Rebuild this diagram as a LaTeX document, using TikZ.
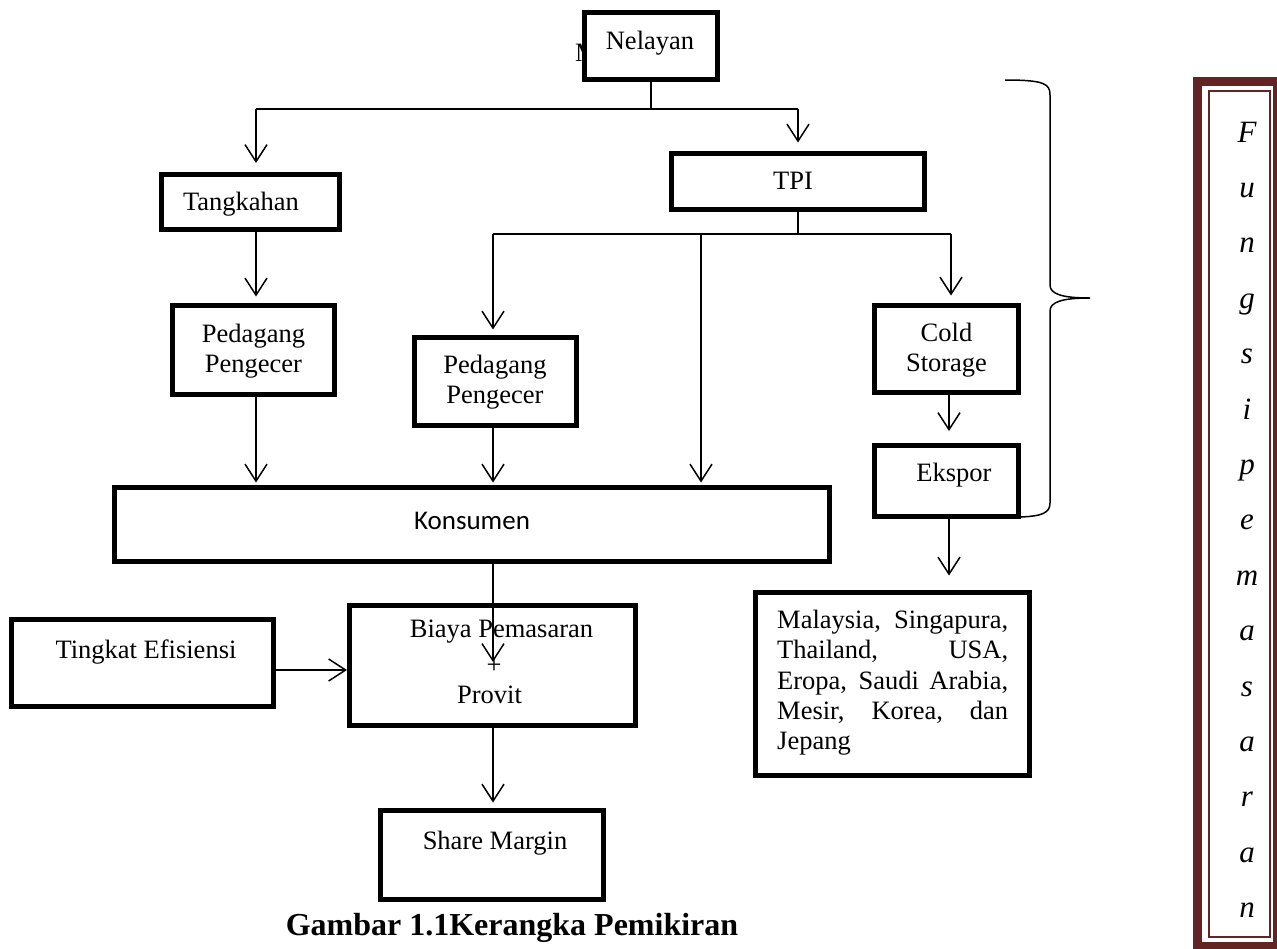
\documentclass[tikz,border=0pt]{standalone}
\usepackage{fontspec}
\setmainfont{Liberation Serif}
\newfontfamily\calfont{Carlito}
\usetikzlibrary{arrows.meta}
\definecolor{framered}{RGB}{99,37,35}
\begin{document}
\begin{tikzpicture}[x=1pt,y=-1pt,
  box/.style={draw, line width=5pt, fill=white, inner sep=0pt},
  txt/.style={inner sep=0pt, align=center, font=\fontsize{26.5}{30}\selectfont},
  ln/.style={line width=1.5pt},
  arr/.style={line width=1.5pt, -{Straight Barb[length=17pt,width=22pt]}},
  vletter/.style={inner sep=0pt, anchor=base, font=\fontsize{31}{31}\selectfont\itshape}
]
\useasboundingbox (0,0) rectangle (1277,948);
\clip (0,0) rectangle (1277,948);
\fill[white] (0,0) rectangle (1277,948);

% hidden letter behind Nelayan
\node[txt] (mtxt) at (587,53) {M};

% boxes
\node[box, minimum width=133pt, minimum height=67pt] (nel) at (651,46) {};
\node[box, minimum width=178pt, minimum height=55pt] (tk) at (250.5,202) {};
\node[box, minimum width=162pt, minimum height=89pt] (pp1) at (253.5,350) {};
\node[box, minimum width=253pt, minimum height=56pt] (tpi) at (798,181.5) {};
\node[box, minimum width=162pt, minimum height=88pt] (pp2) at (495.5,381.5) {};
\node[box, minimum width=144pt, minimum height=87pt] (cold) at (946.5,349) {};
\node[box, minimum width=144pt, minimum height=71pt] (eks) at (946.5,481) {};
\node[box, minimum width=715pt, minimum height=74pt] (kon) at (472,524.5) {};
\node[box, minimum width=262pt, minimum height=87pt] (tke) at (142.5,663) {};
\node[box, minimum width=286pt, minimum height=120pt] (bia) at (492.5,665.5) {};
\node[box, minimum width=223pt, minimum height=89pt] (sm) at (492,855) {};
\node[box, minimum width=274pt, minimum height=183pt] (mal) at (892.5,684) {};

% texts
\node[txt] (nelt) at (650,43.5) {Nelayan};
\node[txt] (tkt) at (241,204) {Tangkahan};
\node[txt] (pp1t) at (253.5,351) {Pedagang\\Pengecer};
\node[txt] (tpit) at (793,181) {TPI};
\node[txt] (pp2t) at (495,382) {Pedagang\\Pengecer};
\node[txt] (coldt) at (946.5,350) {Cold\\Storage};
\node[txt] (ekst) at (954,475) {Ekspor};
\node[inner sep=0pt, font=\calfont\fontsize{27}{30}\selectfont] (konst) at (472,521) {Konsumen};
\node[txt] (tket) at (146,652.5) {Tingkat Efisiensi};
\node[txt] (biat1) at (501.5,632) {Biaya Pemasaran};
\node[txt] (biat2) at (494,666) {+};
\node[txt] (biat3) at (489.5,695) {Provit};
\node[txt] (smt) at (495,843) {Share Margin};
\node[inner sep=0pt, anchor=north west, align=left, font=\fontsize{26.5}{30.3}\selectfont] (malt) at (777,610)
  {\makebox[231pt][s]{Malaysia, Singapura,}\\
   \makebox[231pt][s]{Thailand, USA,}\\
   \makebox[231pt][s]{Eropa, Saudi Arabia,}\\
   \makebox[231pt][s]{Mesir, Korea, dan}\\
   Jepang};
\node[inner sep=0pt, anchor=base, font=\fontsize{32}{32}\selectfont\bfseries] (cap) at (512,935) {Gambar 1.1Kerangka Pemikiran};

% connectors
\coordinate (b1L) at (256,109);
\coordinate (b1M) at (653,109);
\coordinate (b1R) at (798,109);
\draw[ln] (nel.south) -- (nel.south |- b1M);
\draw[ln] (b1L) -- (b1R);
\draw[arr, shorten >=9pt] (b1L) -- (b1L |- tk.north);
\draw[arr, shorten >=8.5pt] (b1R) -- (tpi.north);
\draw[arr, shorten >=6.5pt] (tk.south -| b1L) -- (pp1.north -| b1L);
\draw[arr, shorten >=2.5pt] (pp1.south -| b1L) -- (kon.north -| b1L);

\coordinate (b2L) at (493,234);
\coordinate (b2M) at (701,234);
\coordinate (b2R) at (951,234);
\draw[ln] (tpi.south) -- (tpi.south |- b2L);
\draw[ln] (b2L) -- (b2R);
\draw[arr, shorten >=5.5pt] (b2L) -- (b2L |- pp2.north);
\draw[arr, shorten >=2.5pt] (b2M) -- (b2M |- kon.north);
\draw[arr, shorten >=7.5pt] (b2R) -- (b2R |- cold.north);
\draw[arr, shorten >=2.5pt] (pp2.south -| b2L) -- (kon.north -| b2L);

\coordinate (cx) at (949,400);
\draw[arr, shorten >=12pt] (cold.south -| cx) -- (eks.north -| cx);
\draw[arr, shorten >=14.5pt] (eks.south -| cx) -- (mal.north -| cx);

\coordinate (biatip) at (493,662);
\draw[arr] (kon.south -| biatip) -- (biatip);
\draw[arr] ([yshift=-7pt]tke.east) -- ([yshift=-7pt]tke.east -| bia.west);
\draw[arr, shorten >=5.5pt] (bia.south -| biatip) -- (sm.north -| biatip);

% brace
\draw[ln] (1005,80) .. controls (1045,80) and (1050,84) .. (1050,95)
  -- (1050,285) .. controls (1050,294) and (1062,298) .. (1090,298)
  .. controls (1062,298) and (1050,302) .. (1050,311)
  -- (1050,503) .. controls (1050,513) and (1042,516) .. (1021,517);

% right frame
\draw[line width=9pt, framered] (1197.5,81.5) rectangle (1277.5,946.5);
\draw[line width=2pt, framered] (1208.5,90.5) rectangle (1269.5,936.5);
\foreach \c [count=\i from 0] in {F,u,n,g,s,i,p,e,m,a,s,a,r,a,n}
  \node[vletter] (v\i) at (1247,{142+55.4*\i}) {\c};
\end{tikzpicture}
\end{document}
